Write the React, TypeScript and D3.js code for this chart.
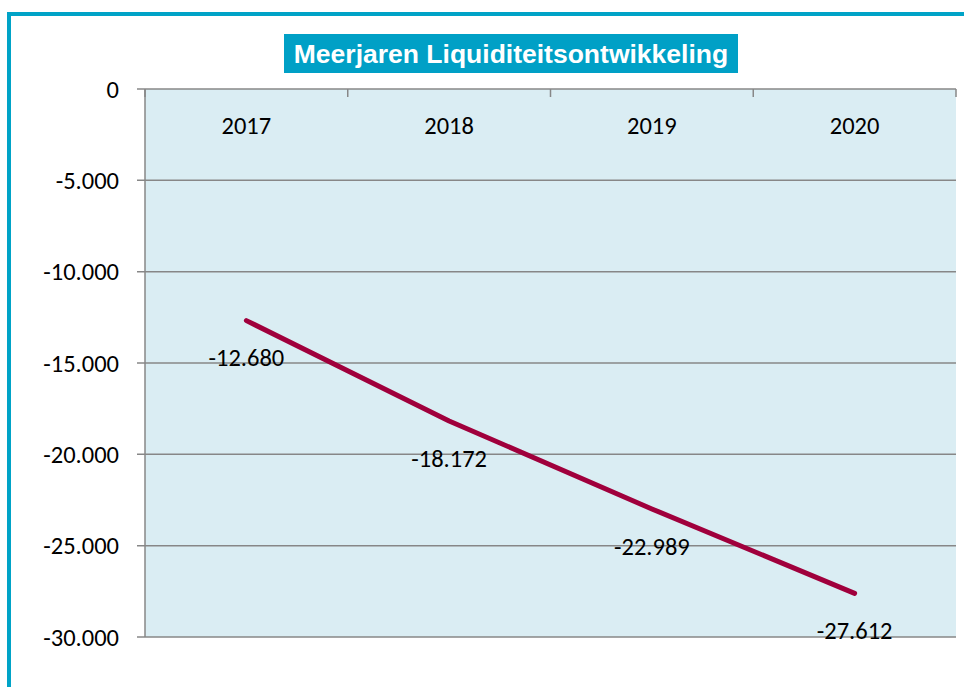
import React from "react";
import * as d3 from "d3";

const categories = ["2017", "2018", "2019", "2020"];
const values = [-12680, -18172, -22989, -27612];
const yTicks = [0, -5000, -10000, -15000, -20000, -25000, -30000];
const title = "Meerjaren Liquiditeitsontwikkeling";

const fmt = (v: number) => {
  const s = Math.abs(v).toString().replace(/\B(?=(\d{3})+(?!\d))/g, ".");
  return (v < 0 ? "-" : "") + s;
};

export default function App() {
  const W = 964, H = 687;
  const left = 145, right = 956, top = 89, bottom = 637;
  const x = d3.scaleBand().domain(categories).range([left, right]);
  const y = d3.scaleLinear().domain([0, -30000]).range([top, bottom]);
  const line = d3.line<number>()
    .x((_, i) => x(categories[i])! + x.bandwidth() / 2)
    .y((d) => y(d));
  const font = "Carlito, 'Open Sans', 'Noto Sans', sans-serif";
  const fs = 24.5;
  return (
    <svg width={W} height={H} style={{ position: "absolute", left: 0, top: 0 }}>
      <rect x={0} y={0} width={W} height={H} fill="#fff" />
      <line x1={9} y1={14} x2={W} y2={14} stroke="#00a3c7" strokeWidth={4} />
      <line x1={9} y1={12} x2={9} y2={H} stroke="#00a3c7" strokeWidth={4} />
      <rect x={left} y={top} width={right - left} height={bottom - top} fill="#daedf3" />
      {yTicks.map((t) => (
        <g key={t}>
          <line x1={137} x2={right} y1={y(t)} y2={y(t)} stroke="#878787" strokeWidth={1.5} />
          <text x={119} y={y(t)} dy="0.35em" textAnchor="end" fontFamily={font} fontSize={fs} fill="#000">
            {fmt(t)}
          </text>
        </g>
      ))}
      <line x1={left} x2={left} y1={top} y2={bottom} stroke="#878787" strokeWidth={1.5} />
      {categories.map((c, i) => (
        <g key={c}>
          <line x1={x(c)!} x2={x(c)!} y1={top} y2={top + 8} stroke="#878787" strokeWidth={1.5} />
          <text x={x(c)! + x.bandwidth() / 2} y={125} dy="0.35em" textAnchor="middle" fontFamily={font} fontSize={fs} fill="#000">
            {c}
          </text>
        </g>
      ))}
      <line x1={right} x2={right} y1={top} y2={top + 8} stroke="#878787" strokeWidth={1.5} />
      <path d={line(values) || ""} fill="none" stroke="#a0003c" strokeWidth={5} strokeLinecap="round" strokeLinejoin="round" />
      {values.map((v, i) => (
        <text key={i} x={x(categories[i])! + x.bandwidth() / 2} y={y(v) + 37} dy="0.35em" textAnchor="middle" fontFamily={font} fontSize={fs} fill="#000">
          {fmt(v)}
        </text>
      ))}
      <rect x={284} y={34} width={454} height={39} fill="#00a0c6" />
      <text x={511} y={54} dy="0.35em" textAnchor="middle" fontFamily="'Liberation Sans', Arial, sans-serif" fontWeight="bold" fontSize={26.5} fill="#fff">
        {title}
      </text>
    </svg>
  );
}
